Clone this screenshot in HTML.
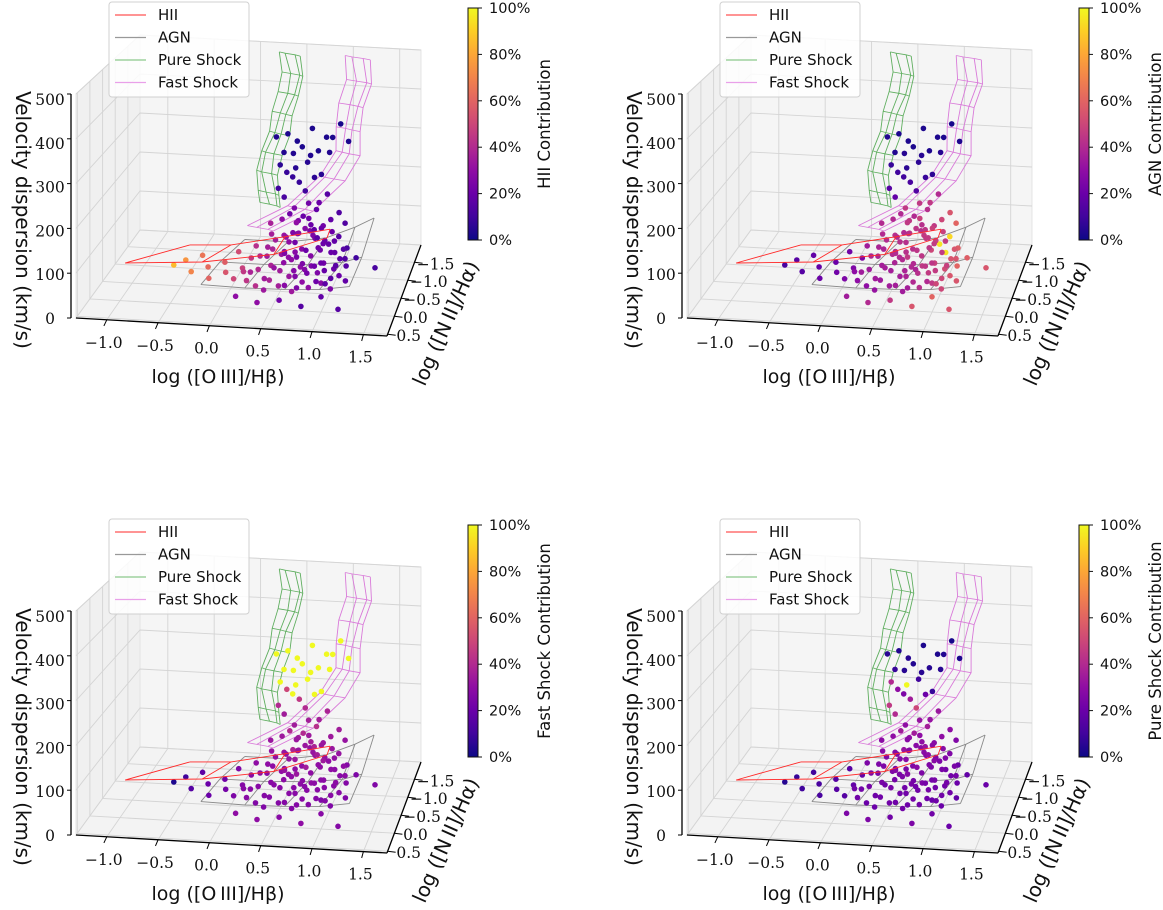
<!DOCTYPE html>
<html><head><meta charset="utf-8">
<style>
html,body{margin:0;padding:0;background:#fff;}
svg{display:block;}
text{font-family:"DejaVu Sans","Liberation Sans",sans-serif;}
.tick{font-family:"DejaVu Serif","Liberation Serif",serif;font-size:15.5px;fill:#111;}
</style></head>
<body>
<svg id="fig" width="1163" height="910" viewBox="0 0 1163 910" xmlns="http://www.w3.org/2000/svg">
<defs>
<linearGradient id="plasmaGrad" x1="0" y1="1" x2="0" y2="0">
<stop offset="0" stop-color="#0d0887"/><stop offset="0.1" stop-color="#41049d"/><stop offset="0.2" stop-color="#6a00a8"/><stop offset="0.3" stop-color="#8f0da4"/><stop offset="0.4" stop-color="#b12a90"/><stop offset="0.5" stop-color="#cc4778"/><stop offset="0.6" stop-color="#e16462"/><stop offset="0.7" stop-color="#f2844b"/><stop offset="0.8" stop-color="#fca636"/><stop offset="0.9" stop-color="#fcce25"/><stop offset="1" stop-color="#f0f921"/>
</linearGradient>
</defs>
</svg>
<script>
// ---- axis ticks ----
const xTicks = [-1.0, -0.5, 0.0, 0.5, 1.0, 1.5];
const yTicks = [0.5, 0.0, -0.5, -1.0, -1.5];
const zTicks = [0, 100, 200, 300, 400, 500];
const cbTicks = [0, 20, 40, 60, 80, 100];
const panelTitles = ["HII Contribution", "AGN Contribution", "Fast Shock Contribution", "Pure Shock Contribution"];
const legendLabels = ["HII", "AGN", "Pure Shock", "Fast Shock"];

// ---- data points: log OIII/Hb, log NII/Ha, velocity dispersion ----
const ptX = [-0.6,-0.5,-0.4,-0.35,-0.25,-0.2,-0.1,-0.05,0.0,0.05,0.1,0.15,
0.13,0.16,0.2,0.24,0.28,0.28,0.31,0.35,0.35,0.39,0.43,0.43,0.46,0.46,0.5,0.5,0.54,0.54,0.58,0.58,0.61,0.61,0.65,0.65,0.69,0.69,0.73,0.73,0.76,0.76,0.8,0.8,0.8,0.84,0.84,0.88,0.88,0.91,0.91,0.95,0.95,0.99,0.99,1.03,1.03,1.06,1.06,1.1,1.1,1.14,1.18,1.21,
0.4,0.6,0.85,1.0,1.45,0.15,1.2,
0.5,0.58,0.65,0.72,0.8,0.69,0.76,0.88,0.54,0.61,0.46,0.73,
0.22,0.3,0.38,0.45,0.52,0.6,0.68,0.75,0.82,0.9,0.97,1.05,0.25,0.33,0.41,0.49,0.57,0.65,0.73,0.81,0.89,0.96,1.04,1.12,0.36,0.44,0.52,0.6,0.68,0.76,0.84,0.92,1.0,1.08,0.55,0.63,0.71,0.79,0.87,0.95,
0.35,0.45,0.55,0.65,0.4,0.5,0.7,0.6,0.35,0.8,0.45,0.65,0.55,0.85,0.4,0.75,0.5,0.6,0.8,0.3,0.9,0.65,0.45,0.95,1.05];
const ptY = [-0.6,-0.7,-0.5,-0.8,-0.6,-0.4,-0.7,-0.5,-0.9,-0.4,-0.6,-0.8,
-0.5,-1.0,-0.3,-0.8,-1.2,-0.5,-0.2,-0.9,-1.4,-0.6,-1.1,-0.3,-0.8,-1.5,-0.5,-1.0,-1.3,-0.2,-0.7,-1.1,-1.5,-0.4,-0.9,-1.3,-0.6,-0.1,-1.1,-1.45,-0.8,-0.3,-1.2,-0.6,-1.55,-0.9,-0.2,-1.3,-0.5,-1.0,-0.7,-1.4,-0.3,-0.9,-1.15,-0.6,-1.3,-0.8,-0.2,-1.0,-0.5,-0.7,-0.4,-0.9,
0.2,0.1,0.3,0.0,-0.6,0.0,0.2,
-0.75,-0.9,-0.6,-0.75,-0.95,-1.2,-1.0,-0.85,-1.0,-1.2,-1.25,-1.3,
-0.4,-0.9,-0.3,-1.1,-0.6,-0.2,-1.2,-0.5,-0.9,-0.3,-1.0,-0.6,-1.3,-0.7,-0.1,-0.8,-1.1,-0.45,-0.15,-1.25,-0.65,-0.85,-0.35,-0.75,-1.0,-0.5,-1.3,-0.8,-0.35,-1.05,-0.55,-1.15,-0.25,-0.9,-0.7,-1.2,-0.6,-0.4,-1.0,-0.5,
-1.2,-1.0,-1.3,-1.1,-1.4,-1.2,-1.35,-1.5,-1.3,-1.2,-1.5,-1.4,-1.1,-1.4,-1.25,-1.3,-1.45,-1.2,-1.5,-1.35,-1.3,-1.5,-1.2,-1.5,-1.4];
const ptZ = [40,45,35,50,40,30,45,38,55,32,42,50,
42,63,38,56,77,49,35,66,98,52,84,42,63,119,49,77,105,38,60,91,133,45,70,112,52,35,88,140,63,42,98,56,154,70,38,112,49,77,56,122,42,66,84,52,105,60,38,70,45,52,42,56,
30,30,35,35,60,25,25,
70,85,75,80,95,105,110,90,100,125,125,135,
50,70,45,80,60,40,90,55,75,45,85,60,95,65,35,70,90,55,40,100,60,70,50,65,80,55,100,70,50,85,60,95,45,75,65,95,60,55,85,55,
190,185,200,195,215,220,210,235,240,230,255,260,250,270,275,280,290,295,300,305,315,320,325,335,300];

// ---- model contributions (%) per point ----
const hiiContrib = [85,75,70,65,62,60,58,55,52,50,48,45,
45,42,44,40,36,40,42,38,30,38,32,38,33,25,35,30,26,36,30,27,22,33,28,22,30,34,25,20,27,30,20,25,15,22,30,18,25,18,22,14,28,18,15,20,14,16,25,12,20,15,18,10,
30,22,15,18,12,30,15,
25,22,24,20,16,20,18,20,25,20,22,18,
38,36,35,32,30,28,26,27,22,21,18,16,37,35,34,31,29,27,25,22,20,19,16,14,35,32,30,28,26,24,21,20,17,15,30,27,25,23,20,19,
10,12,8,10,8,8,6,5,6,5,4,4,5,4,4,3,3,3,3,4,3,3,3,2,3];
const agnContrib = [12,15,15,18,18,20,20,22,22,25,25,25,
30,35,30,38,40,35,30,38,40,36,42,34,40,45,36,42,45,35,40,45,45,36,42,48,40,35,46,45,44,40,48,45,40,50,42,50,46,95,48,55,45,95,92,52,60,55,50,58,55,60,55,58,
40,45,55,60,55,35,55,
40,42,45,44,46,42,44,46,40,40,40,42,
35,38,35,40,38,36,42,38,44,40,46,48,40,38,32,40,42,38,36,45,44,46,50,55,40,36,45,42,38,45,44,48,50,55,40,44,40,42,48,46,
15,18,12,14,10,10,8,6,8,6,5,5,6,5,4,3,3,3,3,4,3,3,3,2,3];
const fastContrib = [3,10,15,17,20,20,22,23,25,25,27,28,
28,30,28,30,32,28,26,30,34,28,32,27,30,35,28,32,34,27,30,33,36,28,30,34,29,27,32,36,30,28,33,30,38,30,27,34,28,30,29,35,26,29,32,28,32,28,26,27,28,27,26,25,
30,28,30,28,26,30,27,
32,34,33,35,36,36,38,34,38,40,40,42,
28,30,27,31,29,27,32,28,30,27,31,29,33,29,26,30,32,28,27,33,29,30,28,29,31,28,33,30,28,32,29,33,27,30,30,33,29,28,31,28,
40,35,45,40,50,100,100,100,100,100,100,100,100,100,100,100,100,100,100,100,100,100,100,100,100];
const pureContrib = [5,8,10,10,12,12,15,15,15,15,18,18,
22,25,22,25,28,23,20,25,30,24,27,22,25,30,24,27,30,22,25,28,32,22,26,30,24,22,28,32,25,23,28,25,33,25,22,30,23,25,24,30,20,22,26,22,26,22,20,20,22,20,18,18,
25,22,25,22,20,25,20,
27,28,27,28,30,30,32,28,32,35,35,36,
22,25,21,26,23,21,28,22,25,21,26,23,29,24,20,25,27,22,21,28,23,24,22,23,26,22,28,24,22,27,23,28,21,24,24,28,23,22,26,22,
45,40,35,50,30,25,20,10,40,8,5,5,100,5,8,5,5,4,3,5,4,3,4,2,3];

// ---- model grids (data coords) ----
const hiiRowX = [[-1.06,-0.3,0.4,0.91],[-0.52,-0.1,0.45,0.91]];
const hiiRowY = [[-0.46,-0.55,-0.7,-0.9],[-0.97,-1.0,-1.05,-1.09]];
const hiiRowZ = [[50,55,70,100],[59,62,85,106]];
const agnRowX = [[-0.24,0.2,0.6,0.95,1.25],[-0.15,0.3,0.75,1.1,1.3],[0.0,0.45,0.85,1.15,1.35]];
const agnRowY = [[-0.21,-0.21,-0.21,-0.21,-0.21],[-0.7,-0.7,-0.7,-0.7,-0.7],[-1.2,-1.2,-1.2,-1.2,-1.2]];
const agnRowZ = [[30,28,30,34,45],[45,45,50,60,75],[60,60,75,105,130]];
const pureCenterX = [0.4,0.46,0.42,0.33,0.27,0.18,0.15,0.2,0.23];
const pureCenterY = [-1.6,-1.6,-1.6,-1.6,-1.6,-1.6,-1.6,-1.6,-1.6];
const pureCenterZ = [500,450,400,350,300,250,200,150,120];
const pureStrandDX = [-0.12,-0.04,0.05,0.12];
const fastCenterX = [1.12,1.17,1.09,1.03,0.99,0.86,0.62,0.32];
const fastCenterY = [-1.6,-1.6,-1.6,-1.6,-1.6,-1.35,-0.97,-0.59];
const fastCenterZ = [500,440,380,320,260,215,167,144];
const fastStrandDX = [-0.14,-0.05,0.05,0.14];

// ---- projection (layout constants) ----
const XMIN=-1.30, XMAX=1.73, Y0=0.55, Y1=-1.98;
const FL=[76,318], FR=[387,336], BL=[140,230], BR=[421,245], HF=224, HB=195;
const panels=[{ox:0,oy:0,c:hiiContrib},{ox:611,oy:0,c:agnContrib},{ox:0,oy:517,c:fastContrib},{ox:611,oy:517,c:pureContrib}];
const svg=document.getElementById('fig');
const NS="http://www.w3.org/2000/svg";
function proj(x,y,z,P){
  const u=(x-XMIN)/(XMAX-XMIN), v=(Y0-y)/(Y0-Y1);
  const lx=FL[0]+(BL[0]-FL[0])*v, ly=FL[1]+(BL[1]-FL[1])*v;
  const rx=FR[0]+(BR[0]-FR[0])*v, ry=FR[1]+(BR[1]-FR[1])*v;
  const h=(HF+(HB-HF)*v)*z/500;
  return [lx+(rx-lx)*u+P.ox, ly+(ry-ly)*u-h+P.oy];
}
function mk(tag,attrs,parent){const e=document.createElementNS(NS,tag);for(const k in attrs)e.setAttribute(k,attrs[k]);(parent||svg).appendChild(e);return e;}
const stops=[[13,8,135],[65,4,157],[106,0,168],[143,13,164],[177,42,144],[204,71,120],[225,100,98],[242,132,75],[252,166,54],[252,206,37],[240,249,33]];
function plasma(p){let t=Math.max(0,Math.min(1,p/100))*10;const i=Math.min(9,Math.floor(t)),f=t-i;const a=stops[i],b=stops[i+1];return 'rgb('+a.map((c,k)=>Math.round(c+(b[k]-c)*f)).join(',')+')';}
function pts(arr){return arr.map(p=>p[0].toFixed(1)+','+p[1].toFixed(1)).join(' ');}

panels.forEach((P,pi)=>{
  const g=mk('g',{});
  
  
  const leftPane=mk('polygon',{points:pts([proj(XMIN,Y0,0,P),proj(XMIN,Y1,0,P),proj(XMIN,Y1,500,P),proj(XMIN,Y0,500,P)]),fill:'#f0f0f0',stroke:'#e4e4e4'},g);
  
  
  const backPane=mk('polygon',{points:pts([proj(XMIN,Y1,0,P),proj(XMAX,Y1,0,P),proj(XMAX,Y1,500,P),proj(XMIN,Y1,500,P)]),fill:'#f5f5f5',stroke:'#e4e4e4'},g);
  
  
  const floor=mk('polygon',{points:pts([proj(XMIN,Y0,0,P),proj(XMAX,Y0,0,P),proj(XMAX,Y1,0,P),proj(XMIN,Y1,0,P)]),fill:'#f3f3f3',stroke:'#e4e4e4'},g);
  
  
  const gc='#d4d4d4';
  xTicks.forEach(x=>{
    const l=mk('polyline',{points:pts([proj(x,Y0,0,P),proj(x,Y1,0,P),proj(x,Y1,500,P)]),fill:'none',stroke:gc,'stroke-width':0.9},g);
    
    
  });
  yTicks.forEach(y=>{
    const l=mk('polyline',{points:pts([proj(XMAX,y,0,P),proj(XMIN,y,0,P),proj(XMIN,y,500,P)]),fill:'none',stroke:gc,'stroke-width':0.9},g);
    
    
  });
  zTicks.forEach(z=>{
    const l=mk('polyline',{points:pts([proj(XMIN,Y0,z,P),proj(XMIN,Y1,z,P),proj(XMAX,Y1,z,P)]),fill:'none',stroke:gc,'stroke-width':0.9},g);
    
    
  });
  const xa=mk('polyline',{points:pts([proj(XMIN,Y0,0,P),proj(XMAX,Y0,0,P)]),stroke:'#000','stroke-width':1.3,fill:'none'},g);
  
  
  const ya=mk('polyline',{points:pts([proj(XMAX,Y0,0,P),proj(XMAX,Y1,0,P)]),stroke:'#000','stroke-width':1.3,fill:'none'},g);
  
  
  const za0=proj(XMIN,Y0,0,P), za1=proj(XMIN,Y0,500,P);
  const za=mk('line',{x1:za0[0]-5,y1:za0[1],x2:za1[0]-5,y2:za1[1],stroke:'#000','stroke-width':1.3},g);
  
  
  xTicks.forEach(x=>{
    const a=proj(x,Y0,0,P), b=proj(x,Y0+0.12,0,P);
    const t=mk('line',{x1:a[0],y1:a[1],x2:b[0],y2:b[1]+2,stroke:'#000','stroke-width':1},g);
    
    
    const tx=mk('text',{x:a[0]-3,y:a[1]+28,'text-anchor':'middle',class:'tick'},g);
    tx.textContent=(x<0?'\u2212':'')+Math.abs(x).toFixed(1);
    
    
  });
  yTicks.forEach(y=>{
    const a=proj(XMAX,y,0,P);
    const t=mk('line',{x1:a[0],y1:a[1],x2:a[0]+8,y2:a[1]+1,stroke:'#000','stroke-width':1},g);
    
    
    const tx=mk('text',{x:a[0]+21,y:a[1]+7,'text-anchor':'middle',class:'tick'},g);
    tx.textContent=(y<0?'\u2212':'')+Math.abs(y).toFixed(1);
    
    
  });
  zTicks.forEach(z=>{
    const a=proj(XMIN,Y0,z,P);
    const t=mk('line',{x1:a[0]-5,y1:a[1],x2:a[0]-9,y2:a[1],stroke:'#000','stroke-width':1},g);
    
    
    const tx=mk('text',{x:a[0]-26,y:a[1]+6+5*z/500,'text-anchor':'middle',class:'tick'},g);
    tx.textContent=String(z);
    
    
  });
  function drawRows(RX,RY,RZ,color,name){
    for(let r=0;r<RX.length;r++){
      const l=mk('polyline',{points:pts(RX[r].map((x,i)=>proj(x,RY[r][i],RZ[r][i],P))),fill:'none',stroke:color,'stroke-width':0.9},g);
      
      
    }
    for(let i=0;i<RX[0].length;i++){
      const l=mk('polyline',{points:pts(RX.map((row,r)=>proj(row[i],RY[r][i],RZ[r][i],P))),fill:'none',stroke:color,'stroke-width':0.9},g);
      
      
    }
  }
  drawRows(agnRowX,agnRowY,agnRowZ,'#8a8a8a','agn');
  function drawShock(CX,CY,CZ,DX,color,name){
    DX.forEach((d,s)=>{
      const l=mk('polyline',{points:pts(CX.map((x,i)=>proj(x+d*(1+0.3*Math.sin(i+s)),CY[i]+s*0.04,CZ[i],P))),fill:'none',stroke:color,'stroke-width':0.9},g);
      
      
    });
    CX.forEach((x,i)=>{
      const l=mk('polyline',{points:pts(DX.map((d,s)=>proj(x+d*(1+0.3*Math.sin(i+s)),CY[i]+s*0.04,CZ[i],P))),fill:'none',stroke:color,'stroke-width':0.8},g);
      
      
    });
  }
  drawShock(pureCenterX,pureCenterY,pureCenterZ,pureStrandDX,'#5fae5f','pure-shock');
  drawShock(fastCenterX,fastCenterY,fastCenterZ,fastStrandDX,'#d97ad9','fast-shock');
  const order=ptX.map((_,i)=>i).sort((a,b)=>ptY[a]-ptY[b]);
  order.forEach(i=>{
    const p=proj(ptX[i],ptY[i],ptZ[i],P);
    const c=mk('circle',{cx:p[0].toFixed(1),cy:p[1].toFixed(1),r:2.8,fill:plasma(P.c[i])},g);
    
    
  });
  drawRows(hiiRowX,hiiRowY,hiiRowZ,'#ff2a2a','hii');
  const xt=mk('text',{x:218+P.ox,y:383+P.oy,'text-anchor':'middle','font-size':19,fill:'#111'},g);
  xt.textContent='log ([O\u2009III]/H\u03B2)';
  
  
  const ytt=mk('text',{x:0,y:0,'text-anchor':'middle','font-size':20,fill:'#111',transform:'translate('+(452+P.ox)+','+(326+P.oy)+') rotate(-66)'},g);
  ytt.textContent='log ([N\u2009II]/H\u03B1)';
  
  
  const zt=mk('text',{x:0,y:0,'text-anchor':'middle','font-size':20,fill:'#111',transform:'translate('+(16+P.ox)+','+(220+P.oy)+') rotate(90)'},g);
  zt.textContent='Velocity dispersion (km/s)';
  
  
  const lg=mk('g',{},g);
  
  
  const lb=mk('rect',{x:109+P.ox,y:2+P.oy,width:140,height:95,rx:3,fill:'rgba(255,255,255,0.85)',stroke:'#d0d0d0'},lg);
  
  
  const lcol=['#ff5555','#999999','#8cc98c','#e9a0e9'];
  legendLabels.forEach((t,k)=>{
    const yy=15+k*22.5+P.oy;
    const ln=mk('line',{x1:115+P.ox,y1:yy,x2:146+P.ox,y2:yy,stroke:lcol[k],'stroke-width':1.2},lg);
    
    
    const tx=mk('text',{x:158+P.ox,y:yy+5,'font-size':15,fill:'#111'},lg);
    tx.textContent=t;
    
    
  });
  const cbx=468+P.ox, cby0=8+P.oy, cby1=240+P.oy;
  const cb=mk('rect',{x:cbx,y:cby0,width:10,height:cby1-cby0,fill:'url(#plasmaGrad)',stroke:'#111','stroke-width':1},g);
  
  
  cbTicks.forEach(v=>{
    const yy=cby1-(cby1-cby0)*v/100;
    const t=mk('line',{x1:cbx+10,y1:yy,x2:cbx+14,y2:yy,stroke:'#111','stroke-width':1},g);
    
    
    const tx=mk('text',{x:cbx+21,y:yy+5,'font-size':14.5,fill:'#111'},g);
    tx.textContent=v+'%';
    
    
  });
  const ct=mk('text',{x:0,y:0,'text-anchor':'middle','font-size':16.5,fill:'#111',transform:'translate('+(550+P.ox)+','+(124+P.oy)+') rotate(-90)'},g);
  ct.textContent=panelTitles[pi];
  
  
});
</script>
</body></html>
